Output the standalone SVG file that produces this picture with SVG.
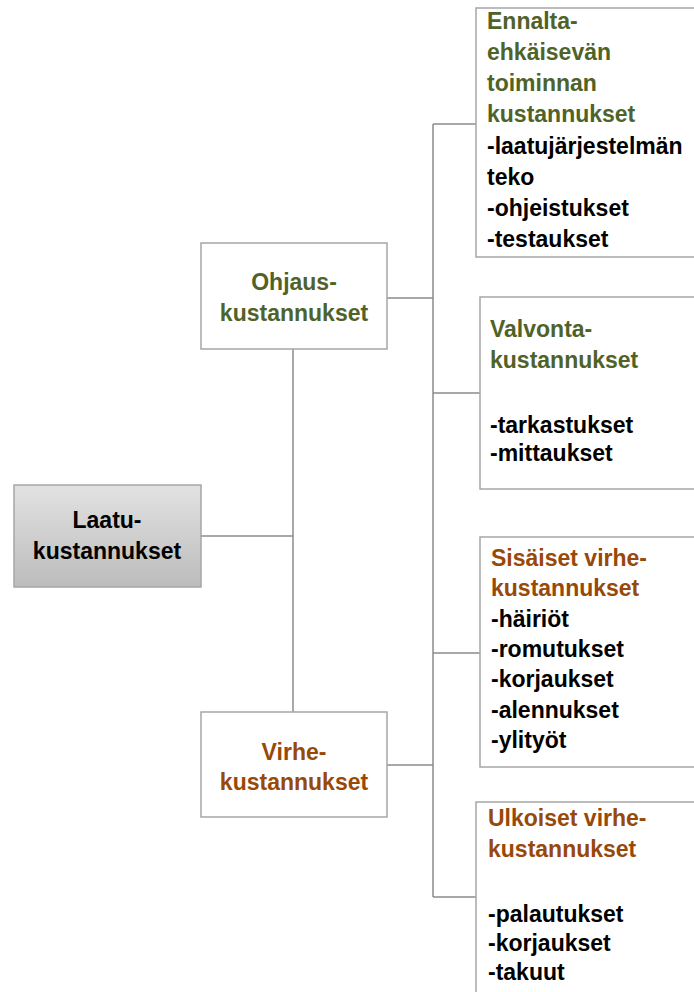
<svg xmlns="http://www.w3.org/2000/svg" width="694" height="992" viewBox="0 0 694 992">
<defs>
<linearGradient id="g" x1="0" y1="0" x2="0" y2="1">
<stop offset="0" stop-color="#e2e2e2"/>
<stop offset="1" stop-color="#bcbcbc"/>
</linearGradient>
</defs>
<style>
text{font-family:"Liberation Sans",Arial,sans-serif;font-weight:bold;font-size:23px}
.box{fill:#fff;stroke:#a6a6a6;stroke-width:1.5}
.root{fill:url(#g);stroke:#a6a6a6;stroke-width:1.5}
.c{fill:none;stroke:#8c8c8c;stroke-width:1.5}
.gr{fill:#4f6228}
.or{fill:#984807}
.bk{fill:#000}
.mid{text-anchor:middle}
</style>
<rect width="694" height="992" fill="#fff"/>
<g id="connectors">
<path class="c" d="M201 536H293M293 349V712M387 298H433M387 765H433M433 124V897M433 124H476M433 393H480M433 653H480M433 897H476"/>
</g>
<g id="laatu">
<rect class="root" x="14" y="485" width="187" height="102"/>
<text class="bk mid" x="107" y="528">Laatu-</text>
<text class="bk mid" x="107" y="559">kustannukset</text>
</g>
<g id="ohjaus">
<rect class="box" x="201" y="243" width="186" height="106"/>
<text class="gr mid" x="294" y="290">Ohjaus-</text>
<text class="gr mid" x="294" y="321">kustannukset</text>
</g>
<g id="virhe">
<rect class="box" x="201" y="712" width="186" height="105"/>
<text class="or mid" x="294" y="760">Virhe-</text>
<text class="or mid" x="294" y="790">kustannukset</text>
</g>
<g id="ennalta">
<rect class="box" x="476" y="8" width="230" height="249"/>
<text class="gr" x="487" y="29">Ennalta-</text>
<text class="gr" x="487" y="60">ehkäisevän</text>
<text class="gr" x="487" y="91">toiminnan</text>
<text class="gr" x="487" y="122">kustannukset</text>
<text class="bk" x="487" y="154">-laatujärjestelmän</text>
<text class="bk" x="487" y="185">teko</text>
<text class="bk" x="487" y="216">-ohjeistukset</text>
<text class="bk" x="487" y="247">-testaukset</text>
</g>
<g id="valvonta">
<rect class="box" x="480" y="297" width="230" height="192"/>
<text class="gr" x="490" y="337">Valvonta-</text>
<text class="gr" x="490" y="368">kustannukset</text>
<text class="bk" x="490" y="433">-tarkastukset</text>
<text class="bk" x="490" y="461">-mittaukset</text>
</g>
<g id="sisaiset">
<rect class="box" x="480" y="537" width="230" height="230"/>
<text class="or" x="491" y="566">Sisäiset virhe-</text>
<text class="or" x="491" y="596">kustannukset</text>
<text class="bk" x="491" y="627">-häiriöt</text>
<text class="bk" x="491" y="657">-romutukset</text>
<text class="bk" x="491" y="687">-korjaukset</text>
<text class="bk" x="491" y="718">-alennukset</text>
<text class="bk" x="491" y="748">-ylityöt</text>
</g>
<g id="ulkoiset">
<rect class="box" x="476" y="802" width="230" height="200"/>
<text class="or" x="488" y="826">Ulkoiset virhe-</text>
<text class="or" x="488" y="857">kustannukset</text>
<text class="bk" x="488" y="922">-palautukset</text>
<text class="bk" x="488" y="951">-korjaukset</text>
<text class="bk" x="488" y="980">-takuut</text>
</g>
</svg>
